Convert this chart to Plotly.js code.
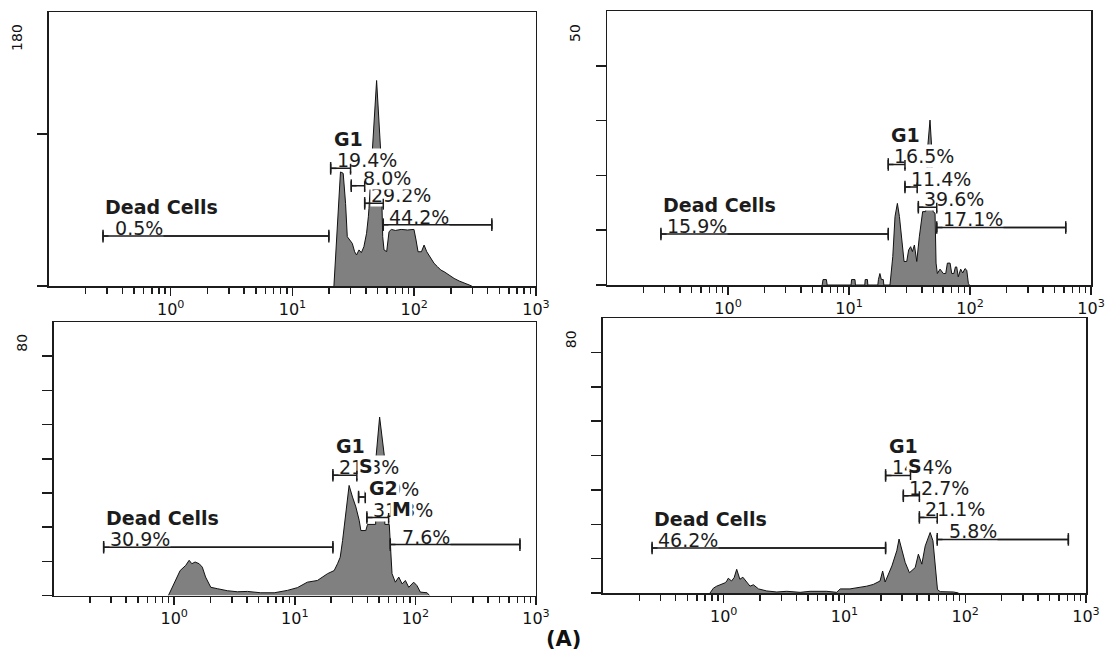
<!DOCTYPE html>
<html><head><meta charset="utf-8">
<script src="https://cdn.plot.ly/plotly-3.0.1.min.js"></script>
<style>html,body{margin:0;padding:0;background:#fff}#chart{width:1115px;height:656px}</style>
</head><body><div id="chart"></div>
<script>
// ---------------- DATA ----------------
const xTickVals = [1, 10, 100, 1000];
const xTickText = ['10<sup>0</sup>', '10<sup>1</sup>', '10<sup>2</sup>', '10<sup>3</sup>'];
const yTopLabels = [180, 50, 80, 80];
const gateNames = ['Dead Cells', 'G1', 'S', 'G2', 'M'];

// Panel 1 histogram
const p1X = [21.9, 22.6, 23.3, 24.1, 24.8, 26.1, 27.3, 28.2, 29.6, 31.0, 32.4, 33.6, 35.2, 36.8, 38.6, 40.6, 42.0, 42.5, 45.3, 49.1, 53.0, 54.1, 55.1, 56.5, 59.4, 62.1, 64.9, 70, 78, 88, 99.5, 103.5, 107.5, 114.6, 120.5, 126.8, 136.7, 145.6, 155.2, 165.3, 176, 193, 212.6, 234, 257, 282.7, 297];
const p1Y = [0, 19.3, 43.4, 65.2, 75.1, 74.0, 54.3, 32.4, 30.2, 28.0, 22.5, 20.4, 23.7, 21.9, 25.8, 34.6, 45.5, 51.0, 89, 135, 89, 51.0, 32.4, 23.7, 22.6, 35.7, 37.2, 36.5, 37.2, 36.8, 37.2, 30.2, 22.5, 22.5, 26.9, 22.5, 18.2, 14.9, 12.7, 10.5, 9.4, 7.2, 5.0, 3.3, 1.8, 0.7, 0];
const p1GateLo = [0.278, 20.6, 30.4, 39.2, 55.7];
const p1GateHi = [19.9, 30.0, 39.2, 55.7, 434];
const p1GateY = [32.8, 77.3, 65.9, 54.3, 40.3];
const p1Pct = [0.5, 19.4, 8.0, 29.2, 44.2];

// Panel 2 histogram
const p2X = [6.0, 6.1, 6.5, 6.6, 10.4, 10.5, 11.2, 11.3, 13.5, 13.6, 14.2, 14.3, 17.3, 17.5, 18.0, 18.5, 19.2, 19.4, 21.8, 23.0, 24.0, 25.1, 26.1, 27.3, 28.5, 30.0, 31.1, 32.3, 33.4, 34.7, 36.3, 38.1, 39.9, 40.6, 43.0, 44.7, 46.7, 48.2, 49.5, 51.4, 52.4, 53.7, 56.5, 60.2, 63.0, 65.0, 68.4, 70.6, 73.5, 75.7, 77.6, 80.0, 83.7, 87, 90.9, 94, 96.9, 98.7];
const p2Y = [0, 1.0, 1.0, 0, 0, 1.0, 1.0, 0, 0, 1.0, 1.0, 0, 0, 1.0, 2.1, 1.0, 1.0, 0, 0, 5.2, 12.5, 14.9, 12.5, 7.6, 4.3, 4.3, 6.4, 7.0, 6.1, 7.3, 4.3, 8.8, 13.1, 13.4, 13.4, 25.2, 30.1, 25.2, 13.4, 13.1, 4.0, 2.1, 2.9, 2.1, 2.1, 4.0, 4.0, 2.1, 2.1, 3.3, 3.3, 1.5, 2.9, 2.2, 3.0, 2.7, 0.3, 0];
const p2GateLo = [0.279, 21.1, 29.0, 37.4, 53.1];
const p2GateHi = [21.1, 29.0, 36.6, 53.1, 618];
const p2GateY = [9.3, 22.0, 17.9, 14.2, 10.5];
const p2Pct = [15.9, 16.5, 11.4, 39.6, 17.1];

// Panel 3 histogram
const p3X = [0.895, 0.984, 1.12, 1.245, 1.33, 1.40, 1.49, 1.61, 1.71, 1.82, 2.01, 2.28, 2.76, 3.34, 4.05, 5.22, 6.75, 8.69, 10.5, 12.7, 15.4, 18.7, 21.2, 22.6, 23.8, 24.9, 26.5, 28.2, 30.1, 32.1, 34.2, 35.3, 38.8, 40.1, 46.8, 47.3, 50.5, 55.2, 55.8, 60.7, 64.0, 68.2, 72.8, 77.6, 82.6, 88.1, 96.8, 103, 110, 125, 131];
const p3Y = [0, 2.9, 7.3, 8.8, 10.3, 9.3, 9.8, 9.3, 8.3, 5.4, 2.4, 2.0, 1.4, 1.1, 1.2, 0.8, 0.8, 1.5, 2.3, 3.9, 4.4, 6.4, 7.3, 9.3, 11.2, 16.1, 23.9, 32.2, 28.8, 25.9, 22.0, 19.0, 19.0, 20.8, 20.8, 41.0, 52.2, 41.0, 20.8, 20.8, 6.4, 3.9, 5.4, 3.4, 4.4, 2.4, 3.9, 2.9, 1.0, 0.8, 0];
const p3GateLo = [0.260, 20.7, 33.8, 39.6, 61.9];
const p3GateHi = [20.7, 32.7, 38.4, 60.0, 736];
const p3GateY = [14.1, 35.2, 28.8, 22.8, 14.9];
const p3Pct = [30.9, 21.3, 8.9, 31.3, 7.6];

// Panel 4 histogram
const p4X = [0.77, 0.82, 0.875, 0.944, 1.03, 1.06, 1.09, 1.16, 1.22, 1.28, 1.36, 1.44, 1.55, 1.65, 1.76, 1.94, 2.27, 2.75, 3.33, 4.29, 5.19, 7.13, 8.63, 9.21, 11.1, 13.5, 15.3, 17.3, 19.7, 20.7, 21.7, 24.7, 27.1, 28.3, 29.9, 31.8, 34.5, 38.5, 40.9, 43.7, 46.6, 51.2, 54.0, 56.4, 58.9, 62, 70, 80, 88];
const p4Y = [0, 1.4, 2.0, 2.5, 3.0, 3.5, 4.3, 3.5, 4.5, 6.9, 4.0, 4.6, 3.0, 2.0, 2.4, 1.2, 0.6, 0.3, 0.5, 0.2, 0.5, 0.5, 0.2, 1.2, 1.2, 1.6, 2.0, 2.5, 3.5, 6.4, 3.2, 7.9, 12.3, 15.7, 12.3, 8.9, 5.9, 7.4, 11.3, 8.4, 13.7, 17.6, 15.2, 7.4, 1.0, 0.4, 0.4, 0.3, 0];
const p4GateLo = [0.255, 21.9, 30.7, 41.7, 58.6];
const p4GateHi = [21.9, 35.2, 41.7, 58.6, 714];
const p4GateY = [13.1, 34.2, 28.3, 22.0, 15.6];
const p4Pct = [46.2, 14.4, 12.7, 21.1, 5.8];

// phase names printed over the percentages (overlapping labels in the original)
const p3Overlay = [[1, 'S'], [2, 'G2'], [3, 'M']];
const p4Overlay = [[1, 'S']];

// ---------------- LAYOUT CONFIG ----------------
const panels = [
  {hx: p1X, hy: p1Y, lo: p1GateLo, hi: p1GateHi, gy: p1GateY, pct: p1Pct, ov: [],
   xd: [0.0439, 0.4807], yd: [0.5640, 0.9817], yTop: yTopLabels[0], yTicks: [0, 100], labY: 0.909, ovShift: {}},
  {hx: p2X, hy: p2Y, lo: p2GateLo, hi: p2GateHi, gy: p2GateY, pct: p2Pct, ov: [],
   xd: [0.5444, 0.9785], yd: [0.5655, 0.9832], yTop: yTopLabels[1], yTicks: [0, 10, 20, 30, 40], labY: 0.92, ovShift: {}},
  {hx: p3X, hy: p3Y, lo: p3GateLo, hi: p3GateHi, gy: p3GateY, pct: p3Pct, ov: p3Overlay,
   xd: [0.0481, 0.4807], yd: [0.0922, 0.5091], yTop: yTopLabels[2], yTicks: [0, 10, 20, 30, 40, 50, 60, 70], labY: 0.923, ovShift: {S: 24, G2: 8, M: 23}},
  {hx: p4X, hy: p4Y, lo: p4GateLo, hi: p4GateHi, gy: p4GateY, pct: p4Pct, ov: p4Overlay,
   xd: [0.5408, 0.9740], yd: [0.0960, 0.5152], yTop: yTopLabels[3], yTicks: [0, 10, 20, 30, 40, 50, 60, 70], labY: 0.923, ovShift: {S: 20}}
];

const minorVals = [];
[0.1, 1, 10, 100].forEach(d => { for (let m = 2; m <= 9; m++) minorVals.push(+(d * m).toPrecision(3)); });

const INK = '#1c1c1c';
const FONT = 'DejaVu Sans';
const LABEL_DROP = -4;
const lg = Math.log10;

const traces = [];
const annotations = [];
const layout = {
  width: 1115, height: 656,
  margin: {l: 0, r: 0, t: 0, b: 0},
  paper_bgcolor: '#fff', plot_bgcolor: '#fff',
  showlegend: false
};

panels.forEach((p, i) => {
  const n = i === 0 ? '' : String(i + 1);
  const xr = 'x' + n, yr = 'y' + n;
  layout['xaxis' + n] = {
    domain: p.xd, anchor: yr, type: 'log', range: [-1, 3],
    tickmode: 'array', tickvals: xTickVals, ticktext: xTickText,
    ticks: 'outside', ticklen: 8, tickwidth: 1.5, tickcolor: INK,
    showline: true, linecolor: INK, linewidth: 1.5, mirror: true,
    showgrid: false, zeroline: false,
    tickfont: {family: FONT, size: 16, color: '#111'},
    minor: {tickmode: 'array', tickvals: minorVals, ticks: 'outside', ticklen: 6, tickwidth: 1.5, tickcolor: INK, showgrid: false}
  };
  layout['yaxis' + n] = {
    domain: p.yd, anchor: xr, range: [0, p.yTop],
    tickmode: 'array', tickvals: p.yTicks, showticklabels: false,
    ticks: 'outside', ticklen: 10, tickwidth: 1.5, tickcolor: INK,
    showline: true, linecolor: INK, linewidth: 1.5, mirror: true,
    showgrid: false, zeroline: false
  };

  // histogram
  traces.push({
    type: 'scatter', mode: 'lines', x: p.hx, y: p.hy, xaxis: xr, yaxis: yr,
    fill: 'tozeroy', fillcolor: '#808080', line: {color: '#111', width: 1}, hoverinfo: 'skip'
  });

  // gates (line + end caps)
  const gx = [], gyv = [];
  p.lo.forEach((v, k) => { gx.push(v, p.hi[k], null); gyv.push(p.gy[k], p.gy[k], null); });
  traces.push({
    type: 'scatter', mode: 'lines+markers', x: gx, y: gyv, xaxis: xr, yaxis: yr,
    line: {color: INK, width: 1.5},
    marker: {symbol: 'line-ns-open', size: 9, line: {color: INK, width: 1.5}},
    hoverinfo: 'skip'
  });

  // percentage labels (bottom rows first so upper ones stack on top)
  [4, 3, 2, 1, 0].forEach(k => {
    const v = p.pct[k];
    const txt = (v < 10 ? '\u00a0' : '') + v.toFixed(1) + '%';
    annotations.push({
      xref: xr, yref: yr, x: lg(p.lo[k]), y: p.gy[k], xanchor: 'left', yanchor: 'bottom',
      xshift: 5, yshift: LABEL_DROP, text: txt, showarrow: false, bgcolor: '#fff', borderpad: 0,
      font: {family: FONT, size: 19, color: INK}
    });
  });
  // phase overlays
  p.ov.forEach(([k, name]) => {
    annotations.push({
      xref: xr, yref: yr, x: lg(p.lo[k]), y: p.gy[k], xanchor: 'left', yanchor: 'bottom',
      xshift: p.ovShift[name] || 0, yshift: LABEL_DROP, text: '<b>' + name + '</b>', showarrow: false,
      bgcolor: '#fff', borderpad: 1, font: {family: FONT, size: 19, color: INK}
    });
  });
  // titles "Dead Cells" and "G1"
  [0, 1].forEach(k => {
    annotations.push({
      xref: xr, yref: yr, x: lg(p.lo[k]), y: p.gy[k], xanchor: 'left', yanchor: 'bottom',
      xshift: k === 0 ? 0 : 1, yshift: 16, text: '<b>' + gateNames[k] + '</b>', showarrow: false,
      font: {family: FONT, size: 19, color: INK}
    });
  });
  // gate lines and caps redrawn above the label boxes
  p.lo.forEach((v, k) => {
    annotations.push({
      xref: xr, yref: yr, x: lg(p.hi[k]), y: p.gy[k], axref: xr, ayref: yr, ax: lg(v), ay: p.gy[k],
      showarrow: true, arrowhead: 0, arrowwidth: 1.5, arrowcolor: INK, text: '',
      standoff: 0, startstandoff: 0, borderpad: 0, borderwidth: 0
    });
    [v, p.hi[k]].forEach(e => {
      annotations.push({
        xref: xr, yref: yr, x: lg(e), y: p.gy[k], ax: 0, ay: 9, yshift: 4.5,
        showarrow: true, arrowhead: 0, arrowwidth: 1.5, arrowcolor: INK, text: '',
        standoff: 0, startstandoff: 0, borderpad: 0, borderwidth: 0
      });
    });
  });
  // rotated top value of the count axis
  annotations.push({
    xref: xr + ' domain', yref: yr + ' domain', x: 0, y: p.labY, xanchor: 'center', yanchor: 'middle',
    xshift: -32, textangle: -90, text: String(p.yTop), showarrow: false,
    font: {family: FONT, size: 14, color: '#111'}
  });
});

annotations.push({
  xref: 'paper', yref: 'paper', x: 0.505, y: 0.026, xanchor: 'center', yanchor: 'middle',
  text: '<b>(A)</b>', showarrow: false, font: {family: FONT, size: 21, color: '#111'}
});

layout.annotations = annotations;

Plotly.newPlot('chart', traces, layout, {staticPlot: true, displayModeBar: false});
</script>
</body></html>
